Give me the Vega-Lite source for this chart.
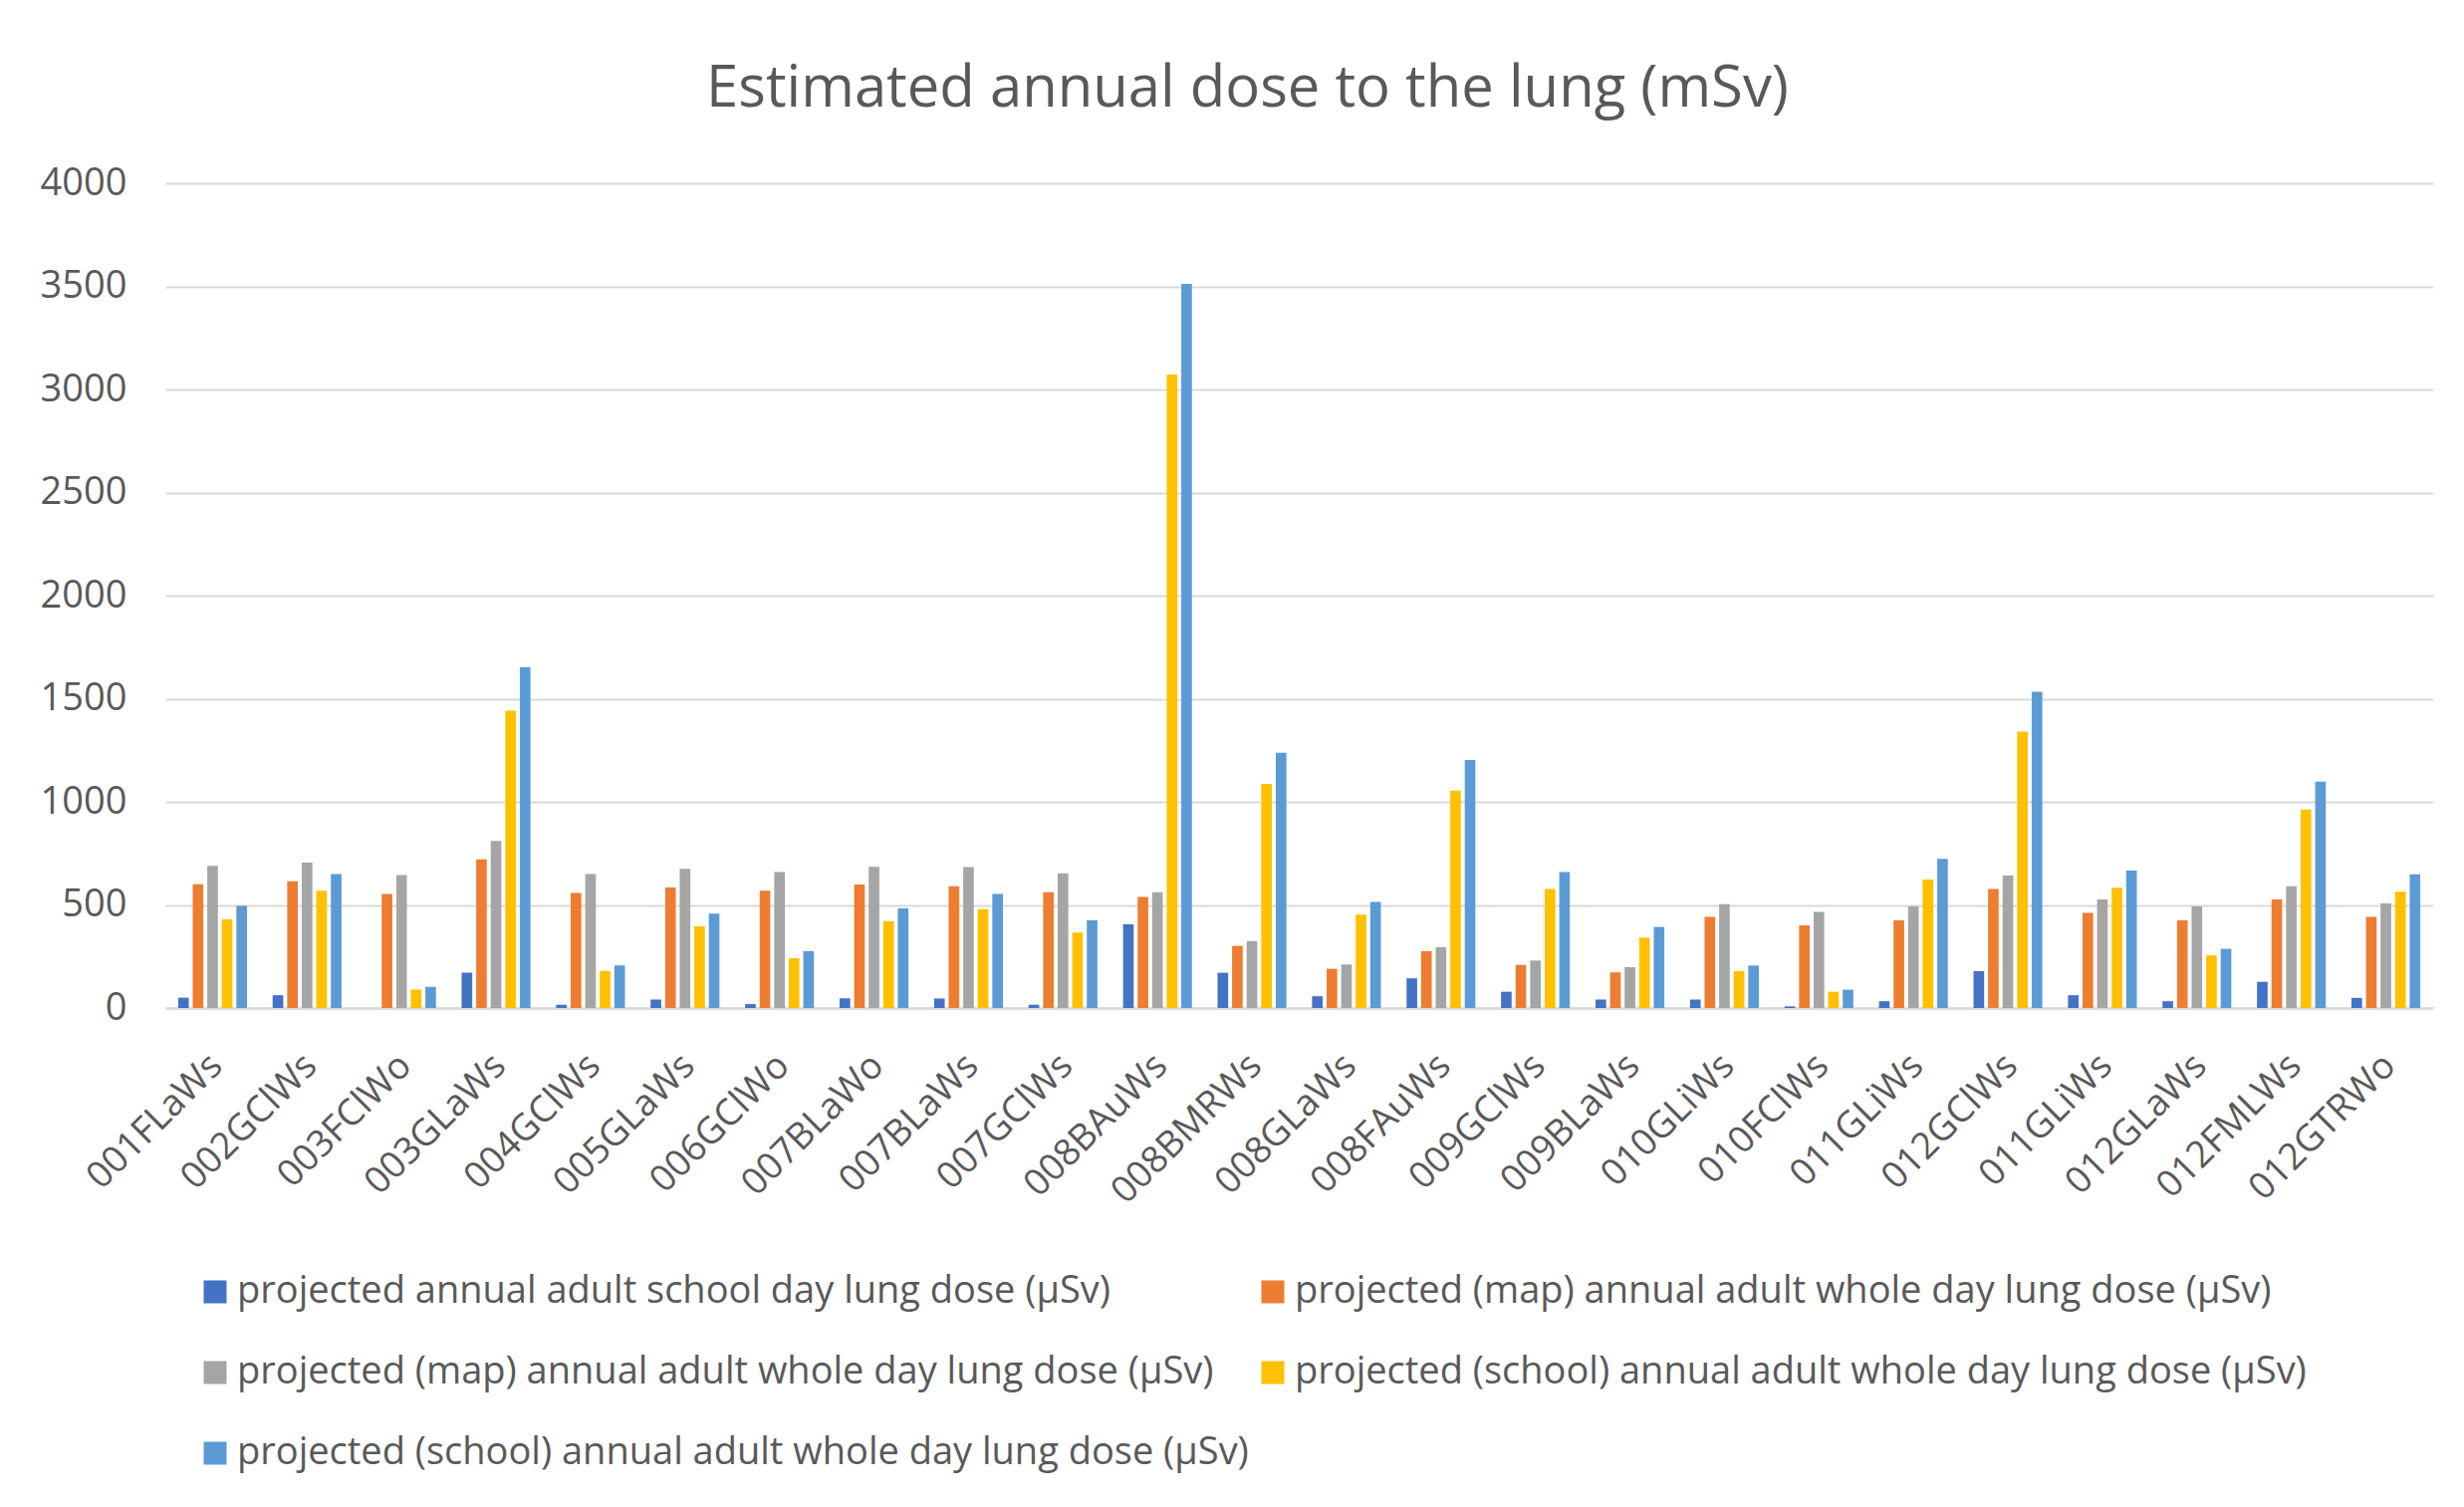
{
  "$schema": "https://vega.github.io/schema/vega-lite/v6.json",
  "autosize": {"type": "none"},
  "width": 2277,
  "height": 828,
  "padding": {"left": 166, "top": 184, "right": 31, "bottom": 501},
  "background": "white",
  "title": {
    "text": "Estimated annual dose to the lung (mSv)",
    "font": "Open Sans",
    "fontSize": 58,
    "fontWeight": "normal",
    "color": "#595959",
    "anchor": "middle",
    "dx": -52,
    "baseline": "alphabetic",
    "offset": 0
  },
  "config": {
    "view": {"stroke": null},
    "font": "Open Sans"
  },
  "data": {
    "values": [
      {"site": "001FLaWs", "series": "1|projected annual adult school day lung dose (µSv)", "dose": 50},
      {"site": "001FLaWs", "series": "2|projected (map) annual adult whole day lung dose (µSv)", "dose": 600},
      {"site": "001FLaWs", "series": "3|projected (map) annual adult whole day lung dose (µSv)", "dose": 690},
      {"site": "001FLaWs", "series": "4|projected (school) annual adult whole day lung dose (µSv)", "dose": 430},
      {"site": "001FLaWs", "series": "5|projected (school) annual adult whole day lung dose (µSv)", "dose": 495},
      {"site": "002GClWs", "series": "1|projected annual adult school day lung dose (µSv)", "dose": 62},
      {"site": "002GClWs", "series": "2|projected (map) annual adult whole day lung dose (µSv)", "dose": 615},
      {"site": "002GClWs", "series": "3|projected (map) annual adult whole day lung dose (µSv)", "dose": 705},
      {"site": "002GClWs", "series": "4|projected (school) annual adult whole day lung dose (µSv)", "dose": 569},
      {"site": "002GClWs", "series": "5|projected (school) annual adult whole day lung dose (µSv)", "dose": 650},
      {"site": "003FClWo", "series": "1|projected annual adult school day lung dose (µSv)", "dose": 0},
      {"site": "003FClWo", "series": "2|projected (map) annual adult whole day lung dose (µSv)", "dose": 553},
      {"site": "003FClWo", "series": "3|projected (map) annual adult whole day lung dose (µSv)", "dose": 645},
      {"site": "003FClWo", "series": "4|projected (school) annual adult whole day lung dose (µSv)", "dose": 89},
      {"site": "003FClWo", "series": "5|projected (school) annual adult whole day lung dose (µSv)", "dose": 103},
      {"site": "003GLaWs", "series": "1|projected annual adult school day lung dose (µSv)", "dose": 171},
      {"site": "003GLaWs", "series": "2|projected (map) annual adult whole day lung dose (µSv)", "dose": 721},
      {"site": "003GLaWs", "series": "3|projected (map) annual adult whole day lung dose (µSv)", "dose": 810},
      {"site": "003GLaWs", "series": "4|projected (school) annual adult whole day lung dose (µSv)", "dose": 1442},
      {"site": "003GLaWs", "series": "5|projected (school) annual adult whole day lung dose (µSv)", "dose": 1653},
      {"site": "004GClWs", "series": "1|projected annual adult school day lung dose (µSv)", "dose": 16},
      {"site": "004GClWs", "series": "2|projected (map) annual adult whole day lung dose (µSv)", "dose": 558},
      {"site": "004GClWs", "series": "3|projected (map) annual adult whole day lung dose (µSv)", "dose": 650},
      {"site": "004GClWs", "series": "4|projected (school) annual adult whole day lung dose (µSv)", "dose": 179},
      {"site": "004GClWs", "series": "5|projected (school) annual adult whole day lung dose (µSv)", "dose": 206},
      {"site": "005GLaWs", "series": "1|projected annual adult school day lung dose (µSv)", "dose": 41},
      {"site": "005GLaWs", "series": "2|projected (map) annual adult whole day lung dose (µSv)", "dose": 585},
      {"site": "005GLaWs", "series": "3|projected (map) annual adult whole day lung dose (µSv)", "dose": 675},
      {"site": "005GLaWs", "series": "4|projected (school) annual adult whole day lung dose (µSv)", "dose": 396},
      {"site": "005GLaWs", "series": "5|projected (school) annual adult whole day lung dose (µSv)", "dose": 458},
      {"site": "006GClWo", "series": "1|projected annual adult school day lung dose (µSv)", "dose": 19},
      {"site": "006GClWo", "series": "2|projected (map) annual adult whole day lung dose (µSv)", "dose": 569},
      {"site": "006GClWo", "series": "3|projected (map) annual adult whole day lung dose (µSv)", "dose": 659},
      {"site": "006GClWo", "series": "4|projected (school) annual adult whole day lung dose (µSv)", "dose": 241},
      {"site": "006GClWo", "series": "5|projected (school) annual adult whole day lung dose (µSv)", "dose": 276},
      {"site": "007BLaWo", "series": "1|projected annual adult school day lung dose (µSv)", "dose": 47},
      {"site": "007BLaWo", "series": "2|projected (map) annual adult whole day lung dose (µSv)", "dose": 599},
      {"site": "007BLaWo", "series": "3|projected (map) annual adult whole day lung dose (µSv)", "dose": 685},
      {"site": "007BLaWo", "series": "4|projected (school) annual adult whole day lung dose (µSv)", "dose": 422},
      {"site": "007BLaWo", "series": "5|projected (school) annual adult whole day lung dose (µSv)", "dose": 483},
      {"site": "007BLaWs", "series": "1|projected annual adult school day lung dose (µSv)", "dose": 46},
      {"site": "007BLaWs", "series": "2|projected (map) annual adult whole day lung dose (µSv)", "dose": 591},
      {"site": "007BLaWs", "series": "3|projected (map) annual adult whole day lung dose (µSv)", "dose": 683},
      {"site": "007BLaWs", "series": "4|projected (school) annual adult whole day lung dose (µSv)", "dose": 480},
      {"site": "007BLaWs", "series": "5|projected (school) annual adult whole day lung dose (µSv)", "dose": 553},
      {"site": "007GClWs", "series": "1|projected annual adult school day lung dose (µSv)", "dose": 16},
      {"site": "007GClWs", "series": "2|projected (map) annual adult whole day lung dose (µSv)", "dose": 561},
      {"site": "007GClWs", "series": "3|projected (map) annual adult whole day lung dose (µSv)", "dose": 653},
      {"site": "007GClWs", "series": "4|projected (school) annual adult whole day lung dose (µSv)", "dose": 366},
      {"site": "007GClWs", "series": "5|projected (school) annual adult whole day lung dose (µSv)", "dose": 425},
      {"site": "008BAuWs", "series": "1|projected annual adult school day lung dose (µSv)", "dose": 406},
      {"site": "008BAuWs", "series": "2|projected (map) annual adult whole day lung dose (µSv)", "dose": 539},
      {"site": "008BAuWs", "series": "3|projected (map) annual adult whole day lung dose (µSv)", "dose": 561},
      {"site": "008BAuWs", "series": "4|projected (school) annual adult whole day lung dose (µSv)", "dose": 3073},
      {"site": "008BAuWs", "series": "5|projected (school) annual adult whole day lung dose (µSv)", "dose": 3512},
      {"site": "008BMRWs", "series": "1|projected annual adult school day lung dose (µSv)", "dose": 171},
      {"site": "008BMRWs", "series": "2|projected (map) annual adult whole day lung dose (µSv)", "dose": 301},
      {"site": "008BMRWs", "series": "3|projected (map) annual adult whole day lung dose (µSv)", "dose": 325},
      {"site": "008BMRWs", "series": "4|projected (school) annual adult whole day lung dose (µSv)", "dose": 1087},
      {"site": "008BMRWs", "series": "5|projected (school) annual adult whole day lung dose (µSv)", "dose": 1238},
      {"site": "008GLaWs", "series": "1|projected annual adult school day lung dose (µSv)", "dose": 57},
      {"site": "008GLaWs", "series": "2|projected (map) annual adult whole day lung dose (µSv)", "dose": 190},
      {"site": "008GLaWs", "series": "3|projected (map) annual adult whole day lung dose (µSv)", "dose": 211},
      {"site": "008GLaWs", "series": "4|projected (school) annual adult whole day lung dose (µSv)", "dose": 453},
      {"site": "008GLaWs", "series": "5|projected (school) annual adult whole day lung dose (µSv)", "dose": 515},
      {"site": "008FAuWs", "series": "1|projected annual adult school day lung dose (µSv)", "dose": 144},
      {"site": "008FAuWs", "series": "2|projected (map) annual adult whole day lung dose (µSv)", "dose": 276},
      {"site": "008FAuWs", "series": "3|projected (map) annual adult whole day lung dose (µSv)", "dose": 295},
      {"site": "008FAuWs", "series": "4|projected (school) annual adult whole day lung dose (µSv)", "dose": 1054},
      {"site": "008FAuWs", "series": "5|projected (school) annual adult whole day lung dose (µSv)", "dose": 1203},
      {"site": "009GClWs", "series": "1|projected annual adult school day lung dose (µSv)", "dose": 79},
      {"site": "009GClWs", "series": "2|projected (map) annual adult whole day lung dose (µSv)", "dose": 209},
      {"site": "009GClWs", "series": "3|projected (map) annual adult whole day lung dose (µSv)", "dose": 230},
      {"site": "009GClWs", "series": "4|projected (school) annual adult whole day lung dose (µSv)", "dose": 577},
      {"site": "009GClWs", "series": "5|projected (school) annual adult whole day lung dose (µSv)", "dose": 659},
      {"site": "009BLaWs", "series": "1|projected annual adult school day lung dose (µSv)", "dose": 41},
      {"site": "009BLaWs", "series": "2|projected (map) annual adult whole day lung dose (µSv)", "dose": 173},
      {"site": "009BLaWs", "series": "3|projected (map) annual adult whole day lung dose (µSv)", "dose": 198},
      {"site": "009BLaWs", "series": "4|projected (school) annual adult whole day lung dose (µSv)", "dose": 341},
      {"site": "009BLaWs", "series": "5|projected (school) annual adult whole day lung dose (µSv)", "dose": 393},
      {"site": "010GLiWs", "series": "1|projected annual adult school day lung dose (µSv)", "dose": 41},
      {"site": "010GLiWs", "series": "2|projected (map) annual adult whole day lung dose (µSv)", "dose": 442},
      {"site": "010GLiWs", "series": "3|projected (map) annual adult whole day lung dose (µSv)", "dose": 504},
      {"site": "010GLiWs", "series": "4|projected (school) annual adult whole day lung dose (µSv)", "dose": 179},
      {"site": "010GLiWs", "series": "5|projected (school) annual adult whole day lung dose (µSv)", "dose": 206},
      {"site": "010FClWs", "series": "1|projected annual adult school day lung dose (µSv)", "dose": 8},
      {"site": "010FClWs", "series": "2|projected (map) annual adult whole day lung dose (µSv)", "dose": 401},
      {"site": "010FClWs", "series": "3|projected (map) annual adult whole day lung dose (µSv)", "dose": 466},
      {"site": "010FClWs", "series": "4|projected (school) annual adult whole day lung dose (µSv)", "dose": 79},
      {"site": "010FClWs", "series": "5|projected (school) annual adult whole day lung dose (µSv)", "dose": 89},
      {"site": "011GLiWs", "series": "1|projected annual adult school day lung dose (µSv)", "dose": 33},
      {"site": "011GLiWs", "series": "2|projected (map) annual adult whole day lung dose (µSv)", "dose": 425},
      {"site": "011GLiWs", "series": "3|projected (map) annual adult whole day lung dose (µSv)", "dose": 493},
      {"site": "011GLiWs", "series": "4|projected (school) annual adult whole day lung dose (µSv)", "dose": 623},
      {"site": "011GLiWs", "series": "5|projected (school) annual adult whole day lung dose (µSv)", "dose": 724},
      {"site": "012GClWs", "series": "1|projected annual adult school day lung dose (µSv)", "dose": 179},
      {"site": "012GClWs", "series": "2|projected (map) annual adult whole day lung dose (µSv)", "dose": 577},
      {"site": "012GClWs", "series": "3|projected (map) annual adult whole day lung dose (µSv)", "dose": 642},
      {"site": "012GClWs", "series": "4|projected (school) annual adult whole day lung dose (µSv)", "dose": 1341},
      {"site": "012GClWs", "series": "5|projected (school) annual adult whole day lung dose (µSv)", "dose": 1534},
      {"site": "011GLiWs|2", "series": "1|projected annual adult school day lung dose (µSv)", "dose": 62},
      {"site": "011GLiWs|2", "series": "2|projected (map) annual adult whole day lung dose (µSv)", "dose": 461},
      {"site": "011GLiWs|2", "series": "3|projected (map) annual adult whole day lung dose (µSv)", "dose": 526},
      {"site": "011GLiWs|2", "series": "4|projected (school) annual adult whole day lung dose (µSv)", "dose": 583},
      {"site": "011GLiWs|2", "series": "5|projected (school) annual adult whole day lung dose (µSv)", "dose": 667},
      {"site": "012GLaWs", "series": "1|projected annual adult school day lung dose (µSv)", "dose": 33},
      {"site": "012GLaWs", "series": "2|projected (map) annual adult whole day lung dose (µSv)", "dose": 425},
      {"site": "012GLaWs", "series": "3|projected (map) annual adult whole day lung dose (µSv)", "dose": 493},
      {"site": "012GLaWs", "series": "4|projected (school) annual adult whole day lung dose (µSv)", "dose": 255},
      {"site": "012GLaWs", "series": "5|projected (school) annual adult whole day lung dose (µSv)", "dose": 287},
      {"site": "012FMLWs", "series": "1|projected annual adult school day lung dose (µSv)", "dose": 127},
      {"site": "012FMLWs", "series": "2|projected (map) annual adult whole day lung dose (µSv)", "dose": 526},
      {"site": "012FMLWs", "series": "3|projected (map) annual adult whole day lung dose (µSv)", "dose": 591},
      {"site": "012FMLWs", "series": "4|projected (school) annual adult whole day lung dose (µSv)", "dose": 962},
      {"site": "012FMLWs", "series": "5|projected (school) annual adult whole day lung dose (µSv)", "dose": 1098},
      {"site": "012GTRWo", "series": "1|projected annual adult school day lung dose (µSv)", "dose": 49},
      {"site": "012GTRWo", "series": "2|projected (map) annual adult whole day lung dose (µSv)", "dose": 442},
      {"site": "012GTRWo", "series": "3|projected (map) annual adult whole day lung dose (µSv)", "dose": 507},
      {"site": "012GTRWo", "series": "4|projected (school) annual adult whole day lung dose (µSv)", "dose": 564},
      {"site": "012GTRWo", "series": "5|projected (school) annual adult whole day lung dose (µSv)", "dose": 648}
    ]
  },
  "mark": {"type": "bar"},
  "encoding": {
    "x": {
      "field": "site",
      "type": "nominal",
      "sort": null,
      "scale": {"paddingInner": 0.23, "paddingOuter": 0.115},
      "axis": {
        "title": null,
        "labelAngle": -45,
        "labelAlign": "right",
        "labelBaseline": "middle",
        "labelFont": "Open Sans",
        "labelFontSize": 37,
        "labelColor": "#595959",
        "labelPadding": 52,
        "labelOffset": 4,
        "labelLimit": 0,
        "labelExpr": "split(datum.label, '|')[0]",
        "ticks": false,
        "domainColor": "#d9d9d9",
        "domainWidth": 2.5,
        "labelOverlap": false
      }
    },
    "xOffset": {
      "field": "series",
      "type": "nominal",
      "scale": {"paddingInner": 0.27, "paddingOuter": 0.135}
    },
    "y": {
      "field": "dose",
      "type": "quantitative",
      "scale": {"domain": [0, 4000]},
      "axis": {
        "title": null,
        "values": [0, 500, 1000, 1500, 2000, 2500, 3000, 3500, 4000],
        "format": "d",
        "labelFont": "Open Sans",
        "labelFontSize": 38,
        "labelColor": "#595959",
        "labelPadding": 39,
        "ticks": false,
        "domain": false,
        "gridColor": "#d9d9d9",
        "gridWidth": 2
      }
    },
    "color": {
      "field": "series",
      "type": "nominal",
      "scale": {"range": ["#4472C4", "#ED7D31", "#A5A5A5", "#FFC000", "#5B9BD5"]},
      "legend": {
        "title": null,
        "orient": "none",
        "legendX": 31,
        "legendY": 1094,
        "direction": "horizontal",
        "columns": 2,
        "columnPadding": 5,
        "rowPadding": 43,
        "symbolType": "square",
        "symbolSize": 529,
        "symbolStrokeWidth": 0,
        "labelOffset": 3,
        "labelFont": "Open Sans",
        "labelFontSize": 38,
        "labelColor": "#595959",
        "labelLimit": 0,
        "labelExpr": "split(datum.label, '|')[1]"
      }
    }
  }
}
